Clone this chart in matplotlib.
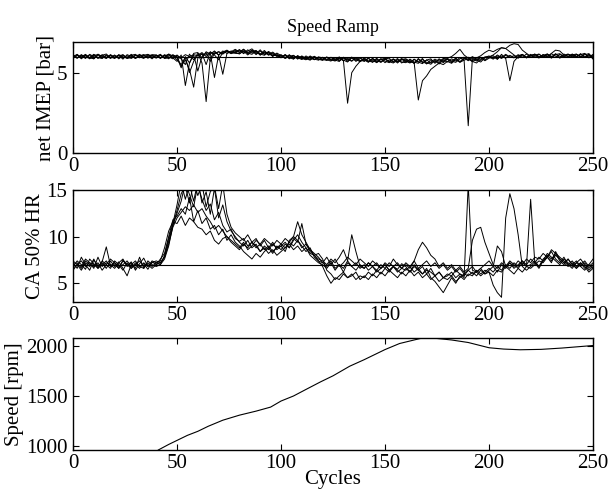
import matplotlib
matplotlib.use("Agg")
import matplotlib.pyplot as plt
import numpy as np

cycles = np.arange(0, 251, 2)

# net IMEP [bar], one list per run
imep_1 = [6.05, 5.90, 6.12, 5.95, 6.10, 5.86, 6.15, 6.00, 5.88, 6.10,
          5.94, 6.08, 5.84, 6.12, 6.01, 5.90, 6.14, 5.96, 6.06, 5.86,
          6.10, 5.94, 6.04, 6.14, 5.92, 5.70, 6.10, 4.20, 5.60, 6.20,
          6.25, 5.90, 6.30, 6.15, 6.35, 6.10, 6.28, 6.40, 6.22, 6.30,
          6.40, 6.18, 6.42, 6.22, 6.34, 6.12, 6.30, 6.08, 6.22, 6.00,
          6.12, 5.94, 6.08, 5.88, 6.04, 5.84, 5.98, 5.80, 6.02, 5.86,
          5.80, 5.98, 5.76, 5.94, 5.72, 5.92, 5.78, 5.96, 5.70, 5.88,
          5.80, 5.64, 5.88, 5.70, 5.86, 5.62, 5.80, 5.68, 5.88, 5.60,
          5.78, 5.62, 5.84, 5.66, 5.56, 5.80, 5.60, 5.74, 5.54, 5.78,
          5.66, 5.86, 5.72, 5.94, 5.78, 1.70, 5.88, 5.72, 5.96, 5.78,
          5.98, 5.84, 6.04, 5.88, 6.08, 5.94, 6.06, 5.90, 6.12, 5.96,
          6.08, 5.94, 6.14, 5.98, 6.12, 5.90, 6.16, 6.02, 5.96, 6.14,
          6.08, 5.94, 6.16, 5.98, 6.12, 5.86]
imep_2 = [5.90, 6.12, 5.86, 6.08, 5.94, 6.14, 5.88, 6.08, 6.16, 5.92,
          6.10, 5.86, 6.06, 5.94, 6.14, 5.90, 6.04, 6.10, 5.90, 6.08,
          5.94, 6.14, 5.88, 5.92, 6.08, 6.00, 5.40, 5.80, 5.20, 4.10,
          5.90, 6.20, 5.50, 6.30, 6.10, 5.80, 6.25, 6.35, 6.20, 6.40,
          6.25, 6.44, 6.18, 6.38, 6.12, 6.34, 6.16, 6.28, 6.04, 6.18,
          5.94, 6.08, 5.86, 6.06, 5.92, 5.82, 6.04, 5.88, 5.82, 5.98,
          5.92, 5.78, 5.96, 5.80, 5.98, 5.74, 5.90, 5.72, 5.94, 5.70,
          5.88, 5.72, 5.66, 5.90, 5.64, 5.84, 5.68, 5.60, 5.82, 5.66,
          5.62, 5.84, 5.66, 5.58, 5.82, 5.64, 5.52, 5.76, 5.60, 5.84,
          5.82, 5.62, 5.90, 5.68, 5.92, 5.74, 5.94, 5.78, 5.66, 5.92,
          5.96, 6.06, 5.82, 6.14, 5.88, 4.50, 5.70, 6.00, 6.14, 5.92,
          6.06, 6.14, 5.92, 6.12, 5.96, 6.18, 6.02, 5.94, 6.16, 6.00,
          6.14, 5.98, 6.18, 5.94, 6.10, 5.98]
imep_3 = [6.12, 5.94, 6.06, 5.88, 6.14, 6.00, 5.92, 6.12, 5.94, 6.08,
          5.88, 6.12, 5.98, 5.90, 6.08, 6.14, 5.92, 6.08, 6.14, 5.94,
          6.06, 5.90, 6.12, 5.98, 5.86, 6.10, 5.85, 5.50, 6.15, 5.80,
          6.20, 5.60, 3.20, 5.90, 6.30, 6.10, 6.35, 6.20, 6.30, 6.45,
          6.28, 6.46, 6.24, 6.40, 6.18, 6.42, 6.12, 6.32, 6.14, 6.06,
          6.08, 5.90, 6.12, 5.86, 6.02, 5.88, 5.80, 6.04, 5.84, 5.78,
          5.96, 5.80, 5.72, 5.94, 5.78, 5.92, 5.70, 5.90, 5.76, 5.94,
          5.70, 5.88, 5.74, 5.64, 5.86, 5.72, 5.62, 5.84, 5.68, 5.82,
          5.86, 5.70, 5.60, 5.82, 5.68, 5.56, 5.66, 5.84, 5.70, 5.88,
          5.90, 6.00, 6.20, 6.45, 6.10, 5.90, 5.70, 5.60, 5.85, 5.95,
          6.04, 5.88, 6.10, 5.94, 6.14, 5.98, 5.92, 6.12, 5.96, 6.16,
          5.94, 6.08, 6.16, 5.96, 6.12, 5.98, 6.18, 5.90, 6.08, 6.16,
          5.96, 6.12, 5.98, 6.18, 5.92, 6.08]
imep_4 = [6.00, 6.14, 5.92, 6.10, 5.86, 6.08, 6.12, 5.90, 6.06, 5.88,
          6.06, 5.94, 6.12, 5.88, 5.94, 6.10, 6.00, 5.88, 6.12, 6.04,
          5.90, 6.08, 5.94, 6.16, 6.04, 5.80, 5.50, 5.95, 5.00, 5.70,
          6.10, 6.25, 6.00, 6.20, 4.70, 6.10, 4.90, 6.20, 6.35, 6.25,
          6.44, 6.22, 6.34, 6.48, 6.24, 6.16, 6.38, 6.12, 6.28, 6.08,
          5.92, 6.12, 5.94, 5.84, 6.06, 5.90, 5.86, 5.78, 5.98, 5.84,
          5.76, 5.96, 5.80, 5.72, 5.92, 5.78, 5.66, 5.96, 5.82, 5.68,
          5.92, 5.70, 5.86, 5.62, 5.82, 5.90, 5.66, 5.82, 5.60, 5.84,
          5.66, 5.80, 5.56, 5.88, 5.62, 5.78, 5.86, 5.58, 5.82, 5.62,
          5.84, 5.70, 5.90, 5.66, 5.86, 5.96, 5.74, 5.92, 6.05, 6.25,
          6.40, 6.30, 6.45, 6.55, 6.50, 6.30, 6.10, 5.92, 6.12, 5.96,
          6.14, 5.98, 5.92, 6.08, 6.16, 5.96, 6.12, 6.18, 5.98, 5.94,
          6.10, 6.16, 5.96, 6.12, 6.18, 5.92]
imep_5 = [5.88, 6.08, 5.98, 6.14, 5.92, 5.86, 6.10, 6.04, 5.90, 6.12,
          5.96, 6.10, 5.90, 6.06, 5.88, 6.06, 6.10, 5.94, 6.02, 6.12,
          6.10, 5.88, 6.08, 5.86, 6.12, 5.95, 5.30, 6.00, 5.60, 6.10,
          5.10, 6.00, 6.25, 5.70, 6.20, 6.30, 6.15, 6.35, 6.25, 6.20,
          6.18, 6.34, 6.10, 6.32, 6.38, 6.16, 6.08, 6.26, 6.00, 6.22,
          6.06, 5.88, 6.02, 6.08, 5.84, 6.04, 5.88, 6.00, 5.80, 5.96,
          5.82, 5.76, 5.94, 5.78, 5.70, 5.96, 5.80, 5.72, 5.92, 5.76,
          5.72, 5.92, 5.64, 5.84, 5.68, 5.86, 5.90, 5.64, 5.72, 5.88,
          5.70, 5.60, 5.82, 5.66, 5.88, 5.54, 5.80, 5.64, 5.86, 5.68,
          5.88, 5.72, 5.64, 5.86, 5.96, 5.80, 6.00, 5.84, 5.76, 5.98,
          5.98, 6.10, 6.30, 6.55, 6.50, 6.70, 6.80, 6.75, 6.40, 6.20,
          6.02, 6.16, 5.96, 6.12, 5.98, 6.20, 6.40, 6.35, 6.10, 5.98,
          6.16, 6.00, 6.12, 6.20, 5.96, 6.14]
imep_6 = [6.08, 5.90, 6.10, 5.96, 5.90, 6.12, 5.94, 5.88, 6.10, 5.96,
          5.90, 6.06, 6.10, 5.92, 6.08, 5.88, 6.04, 6.12, 5.92, 6.06,
          6.04, 6.12, 5.90, 6.10, 5.96, 6.06, 5.92, 6.12, 6.00, 6.12,
          6.05, 6.15, 6.10, 6.28, 6.15, 6.30, 6.20, 6.32, 6.18, 6.28,
          6.16, 6.36, 6.22, 6.14, 6.34, 6.08, 6.28, 6.16, 6.06, 6.08,
          5.96, 6.12, 5.90, 6.04, 5.88, 6.02, 5.84, 5.96, 5.98, 5.80,
          5.84, 5.94, 5.80, 5.76, 5.90, 5.74, 3.10, 5.00, 5.40, 5.70,
          5.82, 5.68, 5.88, 5.72, 5.66, 5.84, 5.70, 5.86, 5.66, 5.80,
          5.84, 5.68, 5.62, 3.30, 4.50, 4.80, 5.20, 5.40, 5.60, 5.50,
          5.70, 5.58, 5.82, 5.64, 5.78, 5.86, 5.68, 5.84, 5.94, 5.74,
          5.90, 5.98, 5.86, 6.04, 5.90, 6.08, 5.94, 6.06, 6.12, 5.92,
          6.06, 6.14, 6.00, 5.96, 6.16, 6.02, 5.94, 6.14, 6.00, 6.12,
          5.98, 6.14, 6.02, 5.94, 6.16, 5.85]
imep_ref = 6.0

# CA 50% heat release, one list per run
ca50_1 = [6.8, 7.4, 7.0, 6.5, 7.6, 7.1, 6.7, 7.3, 8.9, 6.9,
          7.2, 6.6, 7.5, 6.9, 7.3, 6.4, 7.1, 7.7, 6.8, 7.2,
          7.4, 7.2, 7.8, 9.5, 11.2, 12.5, 13.8, 15.8, 14.5, 13.2,
          15.6, 14.0, 12.8, 13.5, 11.8, 12.6, 11.2, 10.5, 10.8, 9.8,
          9.5, 9.8, 9.0, 9.4, 8.8, 9.2, 8.6, 9.0, 8.4, 8.8,
          9.0, 9.4, 8.8, 9.6, 10.2, 9.4, 8.8, 8.2, 8.0, 7.4,
          7.2, 6.8, 7.4, 6.6, 7.0, 6.2, 7.2, 6.8, 6.4, 7.0,
          6.6, 7.2, 6.8, 6.4, 7.0, 6.6, 7.2, 6.8, 6.5, 7.1,
          6.8, 6.2, 7.0, 6.4, 6.8, 6.0, 6.6, 5.8, 6.2, 5.6,
          6.0, 5.8, 6.4, 6.0, 5.6, 15.6, 6.4, 6.2, 6.6, 6.0,
          6.4, 6.8, 6.2, 7.0, 6.6, 7.2, 6.8, 7.4, 7.0, 7.6,
          7.2, 7.8, 7.6, 8.2, 7.8, 8.4, 7.6, 7.2, 7.8, 7.0,
          7.4, 6.8, 7.2, 6.6, 7.0, 7.6]
ca50_2 = [7.2, 6.6, 7.8, 7.0, 6.4, 7.5, 6.9, 7.2, 6.6, 7.4,
          6.8, 7.3, 6.6, 5.8, 7.0, 7.4, 6.8, 7.1, 6.5, 7.3,
          7.0, 7.6, 8.2, 10.0, 11.8, 12.2, 13.0, 12.4, 14.2, 11.6,
          12.8, 11.4, 12.0, 10.8, 11.2, 10.2, 10.8, 9.6, 10.2, 9.4,
          9.0, 8.4, 8.0, 7.6, 8.2, 7.8, 8.4, 8.8, 8.2, 9.0,
          8.6, 9.2, 8.8, 9.8, 9.4, 11.4, 9.2, 8.6, 8.0, 7.6,
          7.4, 7.0, 7.6, 7.2, 7.8, 8.6, 7.4, 6.8, 7.2, 6.6,
          7.0, 6.4, 6.8, 7.2, 6.6, 7.0, 6.4, 6.8, 7.2, 6.6,
          7.0, 6.6, 7.4, 8.6, 9.4, 8.8, 8.0, 7.6, 6.8, 7.2,
          6.6, 7.0, 6.4, 6.8, 6.2, 6.6, 9.6, 10.8, 11.0, 9.4,
          8.2, 7.0, 6.6, 7.2, 6.8, 7.4, 7.0, 6.6, 7.2, 6.8,
          7.0, 7.4, 6.8, 7.6, 8.0, 7.6, 8.2, 7.4, 7.0, 7.6,
          7.0, 7.4, 6.8, 7.2, 6.6, 7.0]
ca50_3 = [6.6, 7.0, 6.4, 7.2, 6.8, 7.6, 6.6, 7.0, 7.4, 6.8,
          7.0, 6.6, 7.4, 7.0, 6.6, 7.2, 6.8, 6.6, 7.2, 6.8,
          7.2, 7.4, 8.8, 10.6, 11.6, 11.4, 12.2, 11.2, 12.0, 11.6,
          11.0, 10.8, 10.2, 10.6, 9.6, 9.2, 9.8, 10.0, 9.4, 9.0,
          8.6, 9.2, 8.8, 9.4, 9.0, 8.4, 9.0, 8.6, 9.2, 8.8,
          9.2, 8.8, 9.4, 9.0, 9.6, 8.8, 9.2, 8.4, 8.0, 8.2,
          7.6, 6.4, 6.0, 5.4, 5.8, 6.2, 5.6, 6.0, 5.4, 5.8,
          5.6, 6.2, 5.8, 6.4, 6.0, 6.6, 6.2, 6.8, 6.4, 6.0,
          6.6, 6.2, 6.8, 6.4, 6.0, 6.6, 5.6, 5.2, 4.6, 4.0,
          4.8, 5.6, 5.0, 5.8, 5.4, 6.0, 5.8, 6.4, 6.0, 6.4,
          6.2, 4.8, 4.0, 3.5, 12.0, 14.6, 13.0, 10.2, 6.8, 6.4,
          6.8, 7.2, 6.6, 7.4, 7.8, 8.6, 8.2, 7.8, 7.4, 7.0,
          6.6, 7.2, 6.8, 6.4, 7.0, 6.6]
ca50_4 = [7.4, 7.0, 6.8, 7.6, 7.2, 6.6, 7.8, 6.8, 7.2, 7.0,
          6.6, 7.2, 7.6, 6.8, 7.2, 6.6, 7.8, 6.6, 7.4, 7.0,
          6.8, 7.0, 7.6, 9.0, 11.2, 12.8, 14.6, 15.4, 13.6, 15.8,
          14.4, 15.6, 13.2, 14.8, 15.4, 13.0, 15.6, 12.4, 11.0, 10.4,
          10.0, 9.6, 10.2, 9.4, 9.8, 9.0, 9.6, 8.8, 9.4, 8.6,
          9.0, 8.4, 9.6, 10.0, 11.6, 10.2, 9.4, 8.6, 8.2, 7.8,
          7.2, 7.8, 7.0, 7.6, 6.8, 7.2, 7.8, 7.4, 7.0, 7.6,
          7.2, 6.8, 7.4, 7.0, 6.6, 7.2, 6.8, 7.6, 7.0, 6.6,
          7.2, 6.8, 7.4, 6.6, 7.0, 7.4, 6.8, 7.2, 6.6, 7.0,
          6.4, 6.8, 6.2, 6.6, 6.0, 6.4, 6.8, 6.2, 6.6, 7.0,
          7.4, 6.8, 9.0, 8.4, 6.8, 7.2, 6.6, 7.0, 7.4, 6.8,
          14.0, 7.2, 6.8, 7.4, 7.8, 7.2, 8.4, 7.6, 7.2, 6.8,
          7.2, 6.6, 7.0, 7.4, 6.8, 7.2]
ca50_5 = [7.0, 7.2, 6.6, 7.4, 7.0, 6.8, 7.2, 6.4, 7.0, 7.6,
          7.2, 6.8, 7.0, 7.4, 6.8, 7.0, 6.6, 7.2, 6.8, 7.4,
          7.2, 7.0, 8.0, 9.8, 11.4, 13.4, 15.8, 14.0, 15.6, 13.8,
          15.9, 13.6, 14.8, 12.4, 15.2, 12.0, 13.4, 11.6, 10.6, 10.0,
          9.4, 9.0, 9.6, 8.8, 9.2, 8.4, 8.8, 8.2, 8.6, 8.0,
          8.4, 8.8, 9.2, 8.6, 9.0, 8.4, 8.8, 8.0, 7.6, 7.2,
          7.0, 6.6, 7.2, 6.4, 7.0, 6.6, 7.4, 10.2, 8.4, 6.8,
          6.6, 7.2, 6.8, 6.2, 6.6, 7.0, 6.4, 6.8, 6.2, 6.6,
          6.4, 6.8, 6.2, 6.6, 6.0, 6.4, 6.2, 5.8, 6.2, 5.6,
          5.8, 6.2, 5.6, 6.0, 5.8, 6.4, 6.0, 6.2, 5.8, 6.2,
          6.6, 6.2, 6.8, 6.4, 7.0, 6.6, 7.2, 6.8, 7.4, 7.0,
          7.6, 7.2, 7.8, 7.4, 8.2, 7.8, 7.4, 7.0, 7.6, 7.2,
          6.8, 7.2, 7.6, 7.0, 6.4, 6.8]
ca50_6 = [6.4, 7.0, 7.4, 6.8, 7.2, 7.0, 6.6, 7.4, 7.0, 6.6,
          7.4, 7.0, 6.4, 7.2, 6.6, 7.0, 7.4, 6.8, 7.0, 6.6,
          7.0, 7.2, 7.8, 9.2, 11.0, 12.0, 12.6, 13.2, 12.8, 13.4,
          12.6, 13.0, 12.2, 11.6, 10.8, 11.2, 10.6, 10.0, 9.6, 9.2,
          8.8, 9.4, 8.6, 9.0, 9.6, 9.2, 9.8, 9.4, 9.0, 9.6,
          9.2, 9.8, 9.4, 10.0, 9.6, 9.0, 8.4, 8.8, 7.8, 7.4,
          6.8, 5.8, 5.0, 5.6, 5.4, 6.0, 5.6, 5.8, 6.2, 5.4,
          5.8, 5.4, 6.0, 5.6, 6.2, 5.8, 6.4, 6.0, 5.6, 6.2,
          5.8, 6.4, 5.8, 6.2, 5.6, 6.0, 5.4, 5.8, 5.2, 5.6,
          5.4, 5.8, 5.2, 5.6, 6.0, 5.8, 6.2, 5.8, 6.4, 6.0,
          6.2, 5.8, 6.4, 6.2, 6.8, 6.4, 6.0, 6.6, 6.2, 6.8,
          6.6, 7.0, 7.4, 7.2, 7.8, 7.4, 8.0, 7.6, 7.2, 7.6,
          7.0, 6.6, 7.2, 6.8, 6.2, 6.6]
ca50_ref = 7.0

# engine speed
speed_cycles = [41, 46, 50, 55, 60, 65, 72, 80, 88, 95, 100, 106, 112, 119,
                125, 133, 140, 146, 150, 157, 163, 168, 175, 182, 190, 200,
                207, 215, 225, 235, 250]
speed_rpm = [965, 1020, 1060, 1110, 1150, 1200, 1260, 1310, 1350, 1390, 1450,
             1500, 1565, 1640, 1700, 1795, 1860, 1920, 1960, 2020, 2050, 2075,
             2070, 2055, 2030, 1978, 1965, 1958, 1962, 1975, 2000]

plt.rcParams['font.family'] = 'serif'
plt.rcParams['font.serif'] = ['Liberation Serif', 'DejaVu Serif']
plt.rcParams['font.size'] = 15


def style(ax):
    ax.set_xlim(0, 250)
    ax.set_xticks([0, 50, 100, 150, 200, 250])
    ax.tick_params(direction='in', top=True, right=True, length=4, width=0.8,
                   labelsize=15)
    ax.tick_params(axis='x', pad=3)
    ax.tick_params(axis='y', pad=4)
    for s in ax.spines.values():
        s.set_linewidth(1.0)


fig = plt.figure(figsize=(6.10, 4.97), dpi=100)
ax1 = fig.add_axes([0.1197, 0.692, 0.8525, 0.2233])
ax2 = fig.add_axes([0.1197, 0.3924, 0.8525, 0.2254])
ax3 = fig.add_axes([0.1197, 0.0946, 0.8525, 0.2254])

for run in [imep_1, imep_2, imep_3, imep_4, imep_5, imep_6]:
    ax1.plot(cycles, run, color='black', lw=0.7)
ax1.axhline(imep_ref, color='black', lw=0.8)
ax1.set_ylim(0, 6.9)
ax1.set_yticks([0, 5])
ax1.set_ylabel('net IMEP [bar]', labelpad=1)
ax1.set_title('Speed Ramp', fontsize=13, pad=7)
style(ax1)

for run in [ca50_1, ca50_2, ca50_3, ca50_4, ca50_5, ca50_6]:
    ax2.plot(cycles, run, color='black', lw=0.7)
ax2.axhline(ca50_ref, color='black', lw=0.8)
ax2.set_ylim(3, 15)
ax2.set_yticks([5, 10, 15])
ax2.set_ylabel('CA 50% HR', labelpad=1)
style(ax2)

ax3.plot(speed_cycles, speed_rpm, color='black', lw=0.8)
ax3.set_ylim(965, 2075)
ax3.set_yticks([1000, 1500, 2000])
ax3.set_ylabel('Speed [rpm]', labelpad=1)
ax3.set_xlabel('Cycles', labelpad=-2)
style(ax3)

fig.savefig('out.png', dpi=100)
